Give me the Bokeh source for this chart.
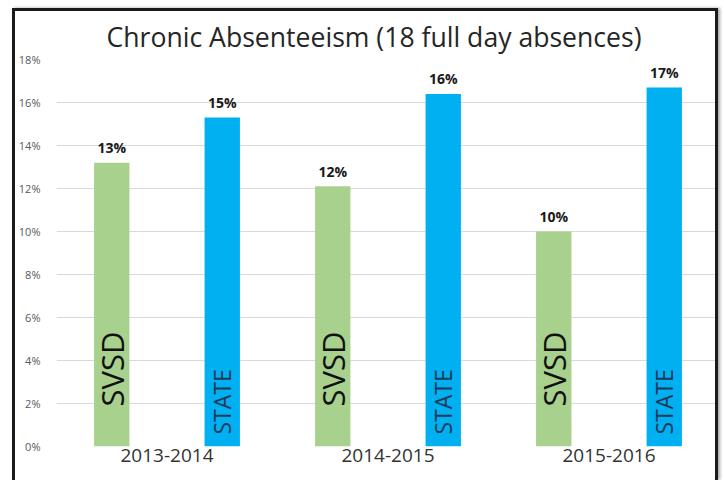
import math
from bokeh.plotting import figure
from bokeh.models import (FactorRange, Range1d, ColumnDataSource, SingleIntervalTicker,
                          PrintfTickFormatter)
from bokeh.transform import dodge
from bokeh.core.properties import value
from bokeh.embed import file_html
from bokeh.resources import INLINE

# ---- data ----
years = ["2013-2014", "2014-2015", "2015-2016"]
svsd = [13.2, 12.1, 10.0]
state = [15.3, 16.4, 16.7]
svsd_labels = ["13%", "12%", "10%"]
state_labels = ["15%", "16%", "17%"]
svsd_name = ["SVSD", "SVSD", "SVSD"]
state_name = ["STATE", "STATE", "STATE"]

src = ColumnDataSource(dict(
    years=years, svsd=svsd, state=state,
    svsd_labels=svsd_labels, state_labels=state_labels,
    svsd_name=svsd_name, state_name=state_name,
    zero=[0] * len(years),
))

FONT = "Open Sans"

p = figure(
    x_range=FactorRange(*years), y_range=Range1d(0, 18),
    width=700, height=469, output_backend="svg", toolbar_location=None,
    min_border_left=40, min_border_right=2, min_border_top=48, min_border_bottom=37,
    title="Chronic Absenteeism (18 full day absences)",
)
# dark frame around the picture (open at the bottom, as in the reference)
p.styles = {
    "box-sizing": "content-box",
    "margin-left": "12px",
    "margin-top": "8px",
    "border-left": "3px solid #1a1a1a",
    "border-top": "3px solid #1a1a1a",
    "border-right": "3px solid #1a1a1a",
    "border-bottom": "0px",
    "overflow": "hidden",
    "box-shadow": "2px 0px 3px rgba(0,0,0,0.35)",
}

p.title.align = "left"
p.title.offset = 50
p.title.text_font = FONT
p.title.text_font_size = "26.6px"
p.title.text_font_style = "normal"
p.title.text_color = "#262626"

p.background_fill_color = "white"
p.border_fill_color = "white"
p.outline_line_color = None

bw = 0.16
p.vbar(x=dodge("years", -0.25, range=p.x_range), top="svsd", width=bw, source=src,
       fill_color="#a9d18e", line_color=None)
p.vbar(x=dodge("years", 0.25, range=p.x_range), top="state", width=bw, source=src,
       fill_color="#00b0f0", line_color=None)

# value labels
p.text(x=dodge("years", -0.25, range=p.x_range), y="svsd", text="svsd_labels", source=src,
       text_font=value(FONT), text_font_size="14px", text_font_style="bold",
       text_color="#1a1a1a", text_align="center", text_baseline="middle", y_offset=-15)
p.text(x=dodge("years", 0.25, range=p.x_range), y="state", text="state_labels", source=src,
       text_font=value(FONT), text_font_size="14px", text_font_style="bold",
       text_color="#1a1a1a", text_align="center", text_baseline="middle", y_offset=-15)

# rotated series names inside bars
p.text(x=dodge("years", -0.25, range=p.x_range), y="zero", text="svsd_name", source=src,
       angle=math.pi / 2, text_font=value(FONT), text_font_size="31px",
       text_color="#111111", text_align="left", text_baseline="middle", y_offset=-40)
p.text(x=dodge("years", 0.25, range=p.x_range), y="zero", text="state_name", source=src,
       angle=math.pi / 2, text_font=value(FONT), text_font_size="23px",
       text_color="#1f3a5a", text_align="left", text_baseline="middle", y_offset=-12)

# axes
p.yaxis.ticker = SingleIntervalTicker(interval=2)
p.yaxis.formatter = PrintfTickFormatter(format="%d%%")
p.yaxis.major_label_text_font = FONT
p.yaxis.major_label_text_font_size = "11px"
p.yaxis.major_label_text_color = "#595959"
p.yaxis.major_label_standoff = 10
p.yaxis.axis_line_color = None
p.yaxis.major_tick_line_color = None
p.yaxis.minor_tick_line_color = None

p.xaxis.major_label_text_font = FONT
p.xaxis.major_label_text_font_size = "19px"
p.xaxis.major_label_text_color = "#333333"
p.xaxis.major_label_standoff = -4
p.xaxis.axis_line_color = None
p.xaxis.major_tick_line_color = None
p.xaxis.minor_tick_line_color = None

p.xgrid.grid_line_color = None
p.ygrid.grid_line_color = "#d9d9d9"
p.ygrid.grid_line_width = 1

open("out.html", "w").write(file_html(p, INLINE))
